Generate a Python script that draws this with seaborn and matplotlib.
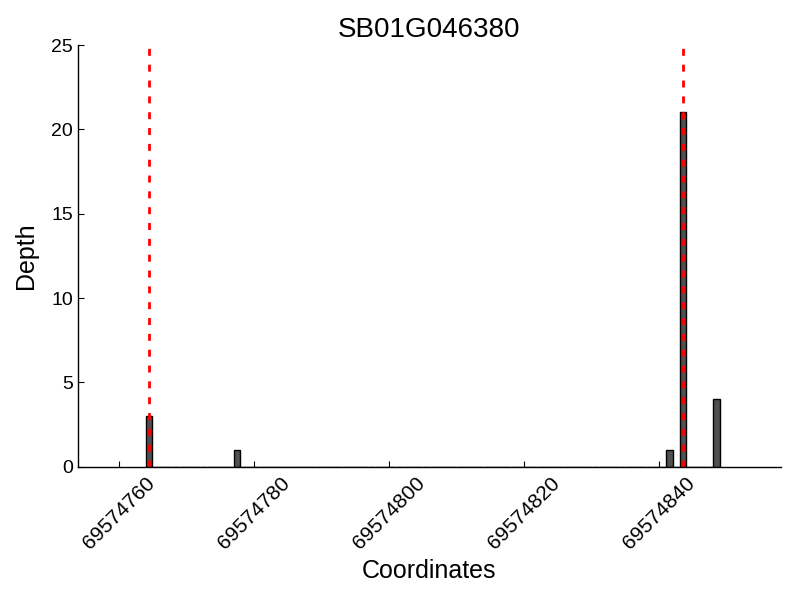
import numpy as np
import pandas as pd
import matplotlib
matplotlib.use("Agg")
import matplotlib.pyplot as plt
import seaborn as sns

gene = "SB01G046380"
positions = [69574764, 69574777, 69574841, 69574843, 69574848]
depth = [3, 1, 1, 21, 4]
markers = [69574764.5, 69574843.5]  # red dashed lines
xticks = [69574760, 69574780, 69574800, 69574820, 69574840]

sns.set_style("ticks")
plt.rcParams['font.family'] = ['Liberation Sans', 'DejaVu Sans']
plt.rcParams['text.color'] = 'black'
plt.rcParams['axes.labelcolor'] = 'black'
plt.rcParams['xtick.color'] = 'black'
plt.rcParams['ytick.color'] = 'black'
plt.rcParams['axes.edgecolor'] = 'black'

df = pd.DataFrame({"pos": positions, "depth": depth})

fig, ax = plt.subplots(figsize=(8, 6), dpi=100)
fig.subplots_adjust(left=0.0975, right=0.976, bottom=0.222, top=0.925)

sns.histplot(data=df, x="pos", weights="depth", binwidth=1,
             binrange=(min(positions), max(positions) + 1), shrink=0.95,
             color="#505050", edgecolor="black", linewidth=1, alpha=1, ax=ax)

for m in markers:
    ax.axvline(m, color="red", linestyle="--", linewidth=2, dashes=(2.5, 3.2))

ax.set_xlim(min(positions) - 10, max(positions) + 10)
ax.set_ylim(0, 25)
ax.set_xticks(xticks)
ax.set_xticklabels([str(t) for t in xticks], rotation=45, ha="center",
                   fontsize=15)
ax.tick_params(axis="y", labelsize=14)
ax.tick_params(direction="in", length=4, width=0.8)
ax.tick_params(axis="x", pad=5)
sns.despine(ax=ax)
ax.spines["left"].set_linewidth(1)
ax.spines["bottom"].set_linewidth(1)

ax.set_xlabel("Coordinates", fontsize=18, labelpad=4)
ax.set_ylabel("Depth", fontsize=18, labelpad=10)
ax.set_title(gene, fontsize=20)

fig.savefig("out.png", dpi=100)
